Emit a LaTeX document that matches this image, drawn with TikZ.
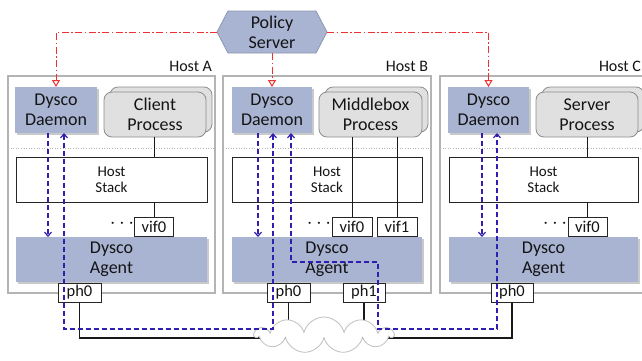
\documentclass[tikz,border=0pt]{standalone}
\usepackage{fontspec}
\setmainfont{Carlito}
\usetikzlibrary{arrows.meta,shapes.symbols,shadows,calc}
\definecolor{dysco}{HTML}{A9B4D2}
\definecolor{dyscodraw}{HTML}{8E97B0}
\definecolor{procfill}{HTML}{E0E0E0}
\definecolor{procdraw}{HTML}{8C8C8C}
\definecolor{hostdraw}{HTML}{B4B4B4}
\definecolor{redline}{HTML}{F03030}
\definecolor{blueline}{HTML}{2E1FB0}
\definecolor{txt}{HTML}{141414}
\pgfdeclarelayer{background}
\pgfsetlayers{background,main}
\begin{document}
\begin{tikzpicture}[x=1pt,y=-1pt,
  every node/.style={inner sep=0pt, outer sep=0pt, text=txt},
  big/.style={font=\fontsize{18}{20}\selectfont, align=center},
  hostbox/.style={draw=hostdraw, line width=1.2pt, fill=white, minimum height=217pt},
  hostlabel/.style={font=\fontsize{16}{18}\selectfont},
  dyscobox/.style={big, fill=dysco, minimum height=46pt,
    drop shadow={shadow xshift=1.5pt, shadow yshift=-1.5pt, opacity=0.35, fill=black!60}},
  agentbox/.style={big, fill=dysco, minimum height=45pt, minimum width=191pt,
    drop shadow={shadow xshift=1.5pt, shadow yshift=-1.5pt, opacity=0.35, fill=black!60}},
  procbox/.style={big, draw=procdraw, fill=procfill, rounded corners=8pt, line width=0.8pt,
    minimum width=102pt, minimum height=45pt},
  stackbox/.style={draw=black!85, line width=0.9pt, fill=white, minimum height=45pt,
    minimum width=190pt, font=\fontsize{15}{16}\selectfont, align=center},
  portbox/.style={draw=black!85, line width=0.9pt, fill=white, minimum height=19pt,
    font=\fontsize{16.5}{16}\selectfont},
  sepline/.style={draw=black!30, dotted, line width=0.6pt},
  netline/.style={draw=black!90, line width=1.1pt},
  redarrow/.style={draw=redline, line width=1pt, dash pattern=on 7pt off 2.5pt on 1.5pt off 2.5pt,
    -{Triangle[open,length=7pt,width=8pt]}},
  bluedash/.style={draw=blueline, line width=1.2pt, dash pattern=on 5pt off 3pt},
  barb/.tip={Straight Barb[length=4pt,width=7pt]},
  dots/.style={font=\fontsize{20}{20}\selectfont}
]
\useasboundingbox (0,0) rectangle (642,360);

% ---------- hosts ----------
\node[hostbox, minimum width=207pt] (hA) at (111.5,184.5) {};
\node[hostbox, minimum width=208pt] (hB) at (327,184.5) {};
\node[hostbox, minimum width=210pt] (hC) at (545,184.5) {};
\node[hostlabel, anchor=base east] (lA) at (212,71) {Host A};
\node[hostlabel, anchor=base east] (lB) at (428,71) {Host B};
\node[hostlabel, anchor=base west] (lC) at (599,71) {Host C};

\coordinate (sep) at (0,148);
\draw[sepline] (hA.west |- sep) -- (hA.east |- sep);
\draw[sepline] (hB.west |- sep) -- (hB.east |- sep);
\draw[sepline] (hC.west |- sep) -- (hC.east |- sep);

% ---------- policy server ----------
\node[big, minimum width=110pt, minimum height=42pt] (ps) at (272,32) {Policy\\Server};
\begin{pgfonlayer}{background}
\draw[fill=dysco, draw=dyscodraw, line width=0.8pt]
  (ps.west) -- ([xshift=11pt]ps.north west) -- ([xshift=-11pt]ps.north east)
  -- (ps.east) -- ([xshift=-11pt]ps.south east) -- ([xshift=11pt]ps.south west) -- cycle;
\end{pgfonlayer}

% ---------- daemons ----------
\node[dyscobox, minimum width=82pt] (dA) at (56,110) {Dysco\\Daemon};
\node[dyscobox, minimum width=80pt] (dB) at (272,110) {Dysco\\Daemon};
\node[dyscobox, minimum width=81pt] (dC) at (488.5,110) {Dysco\\Daemon};

% ---------- processes ----------
\node[procbox] (pAb) at (161,109.5) {};
\node[procbox] (pA) at (155,114.5) {Client\\Process};
\node[procbox, minimum width=103pt] (pBb) at (376.5,109.5) {};
\node[procbox, minimum width=103pt] (pB) at (370.5,114.5) {Middlebox\\Process};
\node[procbox] (pCb) at (593,109.5) {};
\node[procbox] (pC) at (587,114.5) {Server\\Process};

% ---------- host stacks ----------
\node[stackbox, minimum width=191pt] (sA) at (111.5,179.5) {Host\\Stack};
\node[stackbox] (sB) at (327,179.5) {Host\\Stack};
\node[stackbox, minimum width=189pt] (sC) at (543.5,179.5) {Host\\Stack};

% ---------- vifs ----------
\node[portbox, minimum width=39pt] (vA0) at (154,226.5) {vif0};
\node[portbox, minimum width=40pt] (vB0) at (352,226.5) {vif0};
\node[portbox, minimum width=40pt] (vB1) at (397,226.5) {vif1};
\node[portbox, minimum width=39pt] (vC0) at (587.5,226.5) {vif0};
\node[dots] (dotA) at (122,224) {$\cdots$};
\node[dots] (dotB) at (319,224) {$\cdots$};
\node[dots] (dotC) at (555,224) {$\cdots$};

\draw[netline, line width=0.9pt] (pA.south -| vA0.north) -- (sA.north -| vA0.north);
\draw[netline, line width=0.9pt] (sA.south -| vA0.north) -- (vA0.north);
\draw[netline, line width=0.9pt] (pB.south -| vB0.north) -- (vB0.north);
\draw[netline, line width=0.9pt] (pB.south -| vB1.north) -- (vB1.north);
\draw[netline, line width=0.9pt] (pC.south -| vC0.north) -- (sC.north -| vC0.north);
\draw[netline, line width=0.9pt] (sC.south -| vC0.north) -- (vC0.north);

% ---------- agents ----------
\node[agentbox] (aA) at (111.5,259.5) {Dysco\\Agent};
\node[agentbox, minimum width=190pt] (aB) at (327,259.5) {Dysco\\Agent};
\node[agentbox, minimum width=189pt] (aC) at (543.5,259.5) {Dysco\\Agent};

% ---------- physical ports ----------
\node[portbox, minimum width=43pt] (phA) at (79.5,292.5) {ph0};
\node[portbox, minimum width=43pt] (phB0) at (288.5,292.5) {ph0};
\node[portbox, minimum width=42pt] (phB1) at (364,292.5) {ph1};
\node[portbox, minimum width=42pt] (phC) at (512,292.5) {ph0};

% ---------- network cloud ----------
\node[cloud, cloud puffs=11, aspect=3.8, draw=black!25, fill=white, line width=0.8pt,
      minimum width=138pt, minimum height=36pt] (cl) at (324,335) {};
\coordinate (ynet) at (0,338);
\begin{pgfonlayer}{background}
\draw[netline] (phA.south) |- (cl.center |- ynet) -| (phC.south);
\draw[netline] (phB0.south) -- (phB0.south |- cl.center);
\draw[netline] (phB1.south) -- (phB1.south |- cl.center);
\end{pgfonlayer}

% ---------- policy (red) ----------
\draw[redarrow] (ps.west) -| (dA.north);
\draw[redarrow] (ps.south) -- (dB.north);
\draw[redarrow] (ps.east) -| (dC.north);

% ---------- dysco control paths (blue) ----------
\coordinate (xa1) at (48,0);
\coordinate (xa2) at (64,0);
\coordinate (xb1) at (258,0);
\coordinate (xb2) at (273,0);
\coordinate (xb3) at (291,0);
\coordinate (xb4) at (378,0);
\coordinate (xc1) at (482,0);
\coordinate (xc2) at (497,0);
\coordinate (ybus) at (0,329);
\coordinate (yag) at (0,262);

\draw[bluedash, -barb] (dA.south -| xa1) -- (aA.north -| xa1);
\draw[bluedash, -barb] (dB.south -| xb1) -- (aB.north -| xb1);
\draw[bluedash, -barb] (dC.south -| xc1) -- (aC.north -| xc1);
\draw[bluedash, barb-barb] (dA.south -| xa2) -- (xa2 |- ybus) -- (xb2 |- ybus) -- (dB.south -| xb2);
\draw[bluedash, barb-barb] (dB.south -| xb3) -- (xb3 |- yag) -- (xb4 |- yag)
  -- (xb4 |- ybus) -- (xc2 |- ybus) -- (dC.south -| xc2);
\end{tikzpicture}
\end{document}
